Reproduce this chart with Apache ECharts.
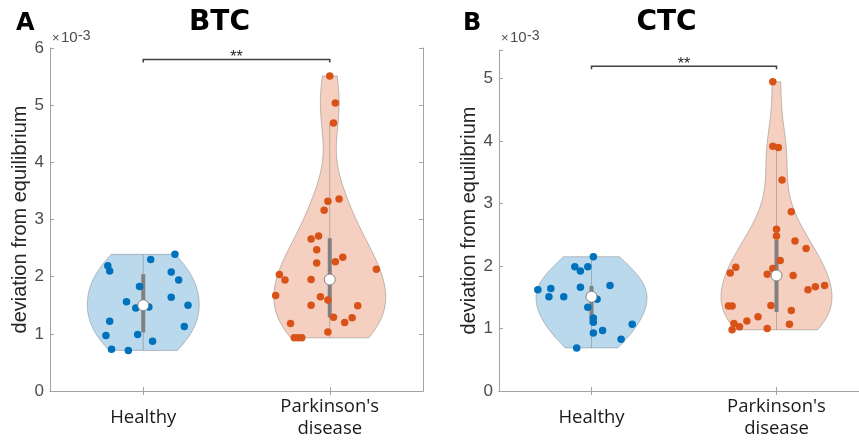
<!DOCTYPE html>
<html>
<head>
<meta charset="utf-8">
<title>BTC / CTC violin plots</title>
<script src="https://cdn.jsdelivr.net/npm/echarts@6/dist/echarts.min.js"></script>
<style>
  html, body { margin: 0; padding: 0; background: #fff; }
  #chart { width: 859px; height: 440px; }
</style>
</head>
<body>
<div id="chart"></div>
<script>
// category labels on the x axis (positions 1 and 2)
const categories = ['Healthy', "Parkinson's\ndisease"];

// deviation from equilibrium, in units of 1e-3
const btcHealthy = [2.19, 2.10, 2.30, 2.39, 2.08, 1.94, 1.83, 1.56, 1.64, 1.50, 1.45, 1.47, 1.22, 1.13, 0.97, 0.99, 0.87, 0.73, 0.71];
const btcHealthyJitter = [-0.19, -0.18, 0.04, 0.17, 0.15, 0.19, -0.02, -0.09, 0.15, 0.24, -0.04, 0.03, -0.18, 0.22, -0.20, -0.03, 0.05, -0.17, -0.08];
const btcParkinson = [5.51, 5.04, 4.69, 3.36, 3.32, 3.16, 2.66, 2.71, 2.47, 2.24, 2.26, 2.34, 2.13, 2.04, 1.94, 1.95, 1.67, 1.65, 1.59, 1.50, 1.49, 1.18, 1.29, 1.28, 1.20, 1.03, 0.93, 0.93, 0.93];
const btcParkinsonJitter = [0.00, 0.03, 0.02, 0.05, -0.01, -0.03, -0.10, -0.06, -0.07, -0.07, 0.03, 0.07, 0.25, -0.27, -0.24, -0.10, -0.29, -0.05, -0.01, -0.10, 0.15, -0.21, 0.02, 0.12, 0.08, -0.01, -0.19, -0.17, -0.15];

const ctcHealthy = [2.15, 1.99, 1.92, 1.99, 1.62, 1.64, 1.51, 1.51, 1.66, 1.69, 1.47, 1.34, 1.17, 1.10, 0.93, 0.97, 1.07, 0.83, 0.69];
const ctcHealthyJitter = [0.01, -0.09, -0.06, -0.02, -0.29, -0.22, -0.23, -0.15, -0.06, 0.10, 0.03, -0.02, 0.01, 0.01, 0.01, 0.06, 0.22, 0.16, -0.08];
const ctcParkinson = [4.95, 3.92, 3.90, 3.38, 2.87, 2.59, 2.48, 2.40, 2.28, 2.09, 1.98, 1.89, 1.96, 1.87, 1.85, 1.62, 1.67, 1.69, 1.36, 1.36, 1.37, 1.29, 1.19, 1.12, 1.08, 1.03, 0.98, 1.00, 1.07];
const ctcParkinsonJitter = [-0.02, -0.02, 0.01, 0.03, 0.08, 0.00, 0.00, 0.10, 0.16, 0.02, -0.22, -0.25, -0.02, -0.05, 0.09, 0.17, 0.21, 0.26, -0.26, -0.24, -0.03, 0.08, -0.10, -0.16, -0.23, -0.20, -0.24, -0.05, 0.07];

// axis limits and significance bar heights
const btcYMax = 6;
const ctcYMax = 5.46;
const btcSigY = 5.8;
const ctcSigY = 5.2;

const healthyColor = '#0072BD';
const parkinsonColor = '#D95319';

function median(a) {
  const s = [...a].sort((x, y) => x - y);
  const n = s.length;
  return n % 2 ? s[(n - 1) / 2] : (s[n / 2 - 1] + s[n / 2]) / 2;
}

// matlab style quantile
function quantile(a, p) {
  const s = [...a].sort((x, y) => x - y);
  const n = s.length;
  const pos = p * n + 0.5;
  if (pos <= 1) return s[0];
  if (pos >= n) return s[n - 1];
  const lo = Math.floor(pos);
  return s[lo - 1] + (pos - lo) * (s[lo] - s[lo - 1]);
}

// kernel density outline + box stats, like Violinplot-Matlab
function violinStats(values, pos) {
  const n = values.length;
  const med = median(values);
  const sig = median(values.map(v => Math.abs(v - med))) / 0.6745;
  const bw = sig * Math.pow(4 / (3 * n), 0.2);
  const lo = Math.min(...values);
  const hi = Math.max(...values);
  const ys = [];
  const ds = [];
  for (let i = 0; i <= 100; i++) {
    const y = lo + (hi - lo) * i / 100;
    let d = 0;
    values.forEach(v => { d += Math.exp(-0.5 * Math.pow((y - v) / bw, 2)); });
    ys.push(y);
    ds.push(d);
  }
  const dmax = Math.max(...ds);
  const right = ys.map((y, i) => [pos + 0.3 * ds[i] / dmax, y]);
  const left = ys.map((y, i) => [pos - 0.3 * ds[i] / dmax, y]).reverse();
  const q1 = quantile(values, 0.25);
  const q3 = quantile(values, 0.75);
  const iqr = q3 - q1;
  const hiW = Math.max(...values.filter(v => v <= q3 + 1.5 * iqr));
  const loW = Math.min(...values.filter(v => v >= q1 - 1.5 * iqr));
  return { poly: right.concat(left), med, q1, q3, loW, hiW, pos };
}

const panels = [
  {
    letter: 'A', title: 'BTC', yMax: btcYMax, sigY: btcSigY, nameGap: 16,
    grid: { left: 50, top: 48, width: 373, height: 343, outerBoundsMode: 'none' },
    groups: [
      { values: btcHealthy, jitter: btcHealthyJitter, color: healthyColor },
      { values: btcParkinson, jitter: btcParkinsonJitter, color: parkinsonColor }
    ]
  },
  {
    letter: 'B', title: 'CTC', yMax: ctcYMax, sigY: ctcSigY, nameGap: 20,
    grid: { left: 499, top: 50, width: 370, height: 341, outerBoundsMode: 'none' },
    groups: [
      { values: ctcHealthy, jitter: ctcHealthyJitter, color: healthyColor },
      { values: ctcParkinson, jitter: ctcParkinsonJitter, color: parkinsonColor }
    ]
  }
];

const axisGray = '#a3a3a3';
const grids = [];
const xAxes = [];
const yAxes = [];
const series = [];
const graphics = [];

panels.forEach((p, k) => {
  grids.push(p.grid);
  // bottom + top x axes
  xAxes.push({
    gridIndex: k, type: 'value', min: 0.5, max: 2.5,
    axisLine: { lineStyle: { color: axisGray } },
    axisTick: { inside: true, length: 4, customValues: [1, 2], lineStyle: { color: axisGray } },
    axisLabel: {
      customValues: [1, 2],
      formatter: v => categories[Math.round(v) - 1],
      fontFamily: 'Open Sans', fontSize: 18.5, lineHeight: 22, color: '#1a1a1a',
      verticalAlign: 'middle', margin: 27
    },
    splitLine: { show: false }
  });
  xAxes.push({
    gridIndex: k, type: 'value', min: 0.5, max: 2.5, position: 'top',
    axisLine: { lineStyle: { color: axisGray } },
    axisTick: { inside: true, length: 4, customValues: [1, 2], lineStyle: { color: axisGray } },
    axisLabel: { show: false },
    splitLine: { show: false }
  });
  // left + right y axes
  yAxes.push({
    gridIndex: k, type: 'value', min: 0, max: p.yMax, interval: 1,
    name: 'deviation from equilibrium', nameLocation: 'middle', nameGap: p.nameGap,
    nameTextStyle: { fontFamily: 'Liberation Sans', fontSize: 20, color: '#262626' },
    axisLine: { show: true, lineStyle: { color: axisGray } },
    axisTick: { show: true, inside: true, length: 4, lineStyle: { color: axisGray } },
    axisLabel: {
      fontFamily: 'Liberation Sans', fontSize: 17, color: '#4d4d4d', margin: 6,
      formatter: v => (Math.abs(v - Math.round(v)) < 1e-9 ? String(Math.round(v)) : '')
    },
    splitLine: { show: false }
  });
  yAxes.push({
    gridIndex: k, type: 'value', min: 0, max: p.yMax, interval: 1, position: 'right',
    axisLine: { show: true, lineStyle: { color: axisGray } },
    axisTick: { show: true, inside: true, length: 4, lineStyle: { color: axisGray } },
    axisLabel: { show: false },
    splitLine: { show: false }
  });
  const xi = k * 2;
  const yi = k * 2;

  p.groups.forEach((g, gi) => {
    const st = violinStats(g.values, gi + 1);
    // violin body
    series.push({
      type: 'custom', xAxisIndex: xi, yAxisIndex: yi, silent: true, z: 1,
      data: [[st.pos, st.med]],
      renderItem: (params, api) => ({
        type: 'polygon',
        shape: { points: st.poly.map(pt => api.coord(pt)) },
        style: { fill: g.color, opacity: 0.27, stroke: 'none' }
      })
    });
    series.push({
      type: 'custom', xAxisIndex: xi, yAxisIndex: yi, silent: true, z: 2,
      data: [[st.pos, st.med]],
      renderItem: (params, api) => ({
        type: 'polygon',
        shape: { points: st.poly.map(pt => api.coord(pt)) },
        style: { fill: 'none', stroke: 'rgba(120,120,120,0.45)', lineWidth: 1 }
      })
    });
    // whisker + box
    series.push({
      type: 'custom', xAxisIndex: xi, yAxisIndex: yi, silent: true, z: 3,
      data: [[st.pos, st.med]],
      renderItem: (params, api) => {
        const a = api.coord([st.pos, st.loW]);
        const b = api.coord([st.pos, st.hiW]);
        const c = api.coord([st.pos, st.q1]);
        const d = api.coord([st.pos, st.q3]);
        return {
          type: 'group',
          children: [
            { type: 'line', shape: { x1: a[0], y1: a[1], x2: b[0], y2: b[1] }, style: { stroke: 'rgba(128,128,128,0.5)', lineWidth: 1 } },
            { type: 'line', shape: { x1: c[0], y1: c[1], x2: d[0], y2: d[1] }, style: { stroke: '#808080', lineWidth: 4 } }
          ]
        };
      }
    });
    // data points
    series.push({
      type: 'scatter', xAxisIndex: xi, yAxisIndex: yi, silent: true, z: 4,
      symbolSize: 7.5,
      itemStyle: { color: g.color, opacity: 1 },
      data: g.values.map((v, i) => [gi + 1 + g.jitter[i], v])
    });
    // median
    series.push({
      type: 'scatter', xAxisIndex: xi, yAxisIndex: yi, silent: true, z: 5,
      symbolSize: 11,
      itemStyle: { color: '#ffffff', borderColor: '#808080', borderWidth: 1, opacity: 1 },
      data: [[st.pos, st.med]]
    });
  });

  // significance bracket
  series.push({
    type: 'custom', xAxisIndex: xi, yAxisIndex: yi, silent: true, z: 6,
    data: [[1.5, p.sigY]],
    renderItem: (params, api) => {
      const a = api.coord([1, p.sigY]);
      const b = api.coord([2, p.sigY]);
      return {
        type: 'group',
        children: [
          { type: 'polyline', shape: { points: [[a[0], a[1] + 3], a, b, [b[0], b[1] + 3]] }, style: { stroke: '#404040', lineWidth: 1.5, fill: 'none' } },
          { type: 'text', x: (a[0] + b[0]) / 2, y: a[1] + 6, style: { text: '**', font: '16px "Liberation Sans"', fill: '#262626', align: 'center', verticalAlign: 'bottom' } }
        ]
      };
    }
  });

  const gx = p.grid.left;
  const cx = k === 0 ? 219.5 : 666.5;
  graphics.push(
    { type: 'text', x: cx, y: 23, style: { text: p.title, font: 'bold 28px "DejaVu Sans"', fill: '#000', align: 'center', verticalAlign: 'middle' } },
    { type: 'text', x: k === 0 ? 16 : 463, y: 24, style: { text: p.letter, font: 'bold 24px "DejaVu Sans"', fill: '#000', align: 'left', verticalAlign: 'middle' } },
    { type: 'text', x: gx + 2, y: 45, style: { text: '×', font: '13px "Liberation Sans"', fill: '#4d4d4d', align: 'left', verticalAlign: 'bottom' } },
    { type: 'text', x: gx + 11, y: 45, style: { text: '10', font: '15px "Liberation Sans"', fill: '#4d4d4d', align: 'left', verticalAlign: 'bottom' } },
    { type: 'text', x: gx + 28, y: 43, style: { text: '-3', font: '14px "Liberation Sans"', fill: '#4d4d4d', align: 'left', verticalAlign: 'bottom' } }
  );
});

const chart = echarts.init(document.getElementById('chart'));
chart.setOption({
  animation: false,
  backgroundColor: '#ffffff',
  grid: grids,
  xAxis: xAxes,
  yAxis: yAxes,
  series: series,
  graphic: graphics
});
</script>
</body>
</html>
